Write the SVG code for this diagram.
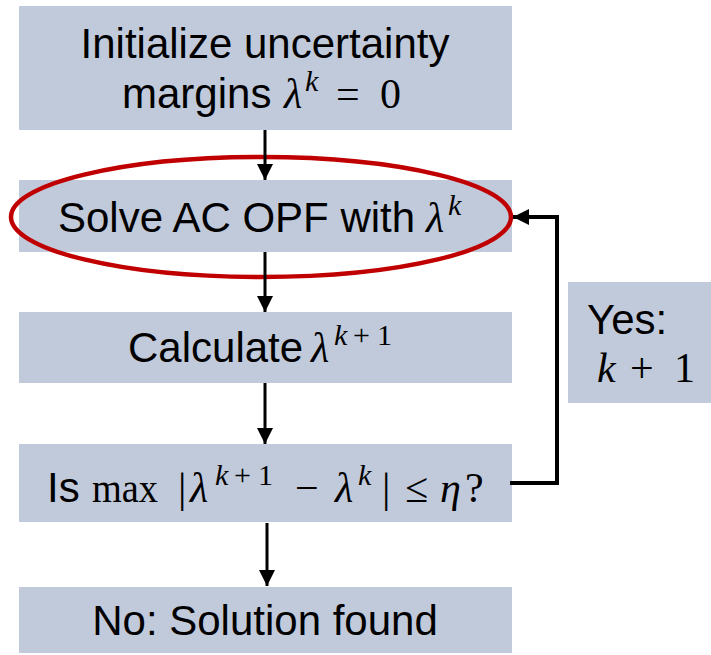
<svg xmlns="http://www.w3.org/2000/svg" width="711" height="655" viewBox="0 0 711 655">
<defs>
<style>
.box{fill:#C1CADB;}
.t{font-family:"Liberation Sans",Arial,sans-serif;font-size:42px;fill:#000;}
.m{font-family:"Liberation Serif","DejaVu Serif",serif;font-size:42px;fill:#000;}
.mi{font-family:"Liberation Serif","DejaVu Serif",serif;font-size:42px;font-style:italic;fill:#000;}
.si{font-family:"Liberation Serif","DejaVu Serif",serif;font-size:30px;font-style:italic;fill:#000;}
.s{font-family:"Liberation Serif","DejaVu Serif",serif;font-size:30px;fill:#000;}
.c{fill:none;stroke:#000;stroke-width:3;}
.fb{fill:none;stroke:#000;stroke-width:4;}
</style>
<marker id="ah" viewBox="0 0 16 16" markerUnits="userSpaceOnUse" markerWidth="16" markerHeight="16" refX="16" refY="8" orient="auto">
<path d="M0,0 L16,8 L0,16 z" fill="#000"/>
</marker>
</defs>
<rect width="711" height="655" fill="#fff"/>
<g id="init">
<rect class="box" x="19" y="6" width="493" height="124"/>
<text class="t" x="265" y="58" text-anchor="middle">Initialize uncertainty</text>
<text class="t" x="122" y="108">margins</text>
<text class="mi" x="284" y="108">λ</text>
<text class="si" x="305" y="91">k</text>
<text class="m" x="336" y="108">=</text>
<text class="m" x="380" y="108">0</text>
</g>
<g id="solve">
<rect class="box" x="19" y="180" width="493" height="72"/>
<text class="t" x="58" y="232">Solve AC OPF with</text>
<text class="mi" x="426" y="232">λ</text>
<text class="si" x="448" y="215">k</text>
</g>
<g id="highlight">
<ellipse cx="261" cy="217" rx="250" ry="60" fill="none" stroke="#C00000" stroke-width="4.5"/>
</g>
<g id="calc">
<rect class="box" x="19" y="312" width="493" height="71"/>
<text class="t" x="128" y="362">Calculate</text>
<text class="mi" x="311" y="362">λ</text>
<text class="si" x="334" y="345">k</text>
<text class="s" x="353" y="345">+</text>
<text class="s" x="377" y="345">1</text>
</g>
<g id="check">
<rect class="box" x="19" y="444" width="493" height="78"/>
<text class="t" x="47" y="502">Is</text>
<text class="m" x="92" y="502" textLength="66" lengthAdjust="spacingAndGlyphs">max</text>
<text class="m" x="178" y="502" font-size="54">|</text>
<text class="mi" x="190" y="502">λ</text>
<text class="si" x="215" y="485">k</text>
<text class="s" x="234" y="485">+</text>
<text class="s" x="258" y="485">1</text>
<text class="m" x="295" y="502">−</text>
<text class="mi" x="335" y="502">λ</text>
<text class="si" x="358" y="485">k</text>
<text class="m" x="382" y="502" font-size="54">|</text>
<text class="m" x="405" y="502">≤</text>
<text class="mi" x="440" y="502">η</text>
<text class="m" x="465" y="502">?</text>
</g>
<g id="done">
<rect class="box" x="19" y="587" width="493" height="66"/>
<text class="t" x="265" y="635" text-anchor="middle">No: Solution found</text>
</g>
<g id="yes">
<rect class="box" x="568" y="282" width="143" height="121"/>
<text class="t" x="587" y="334">Yes:</text>
<text class="mi" x="597" y="382">k</text>
<text class="m" x="630" y="382">+</text>
<text class="m" x="674" y="382">1</text>
</g>
<g id="connectors">
<path class="c" d="M265,130 V180" marker-end="url(#ah)"/>
<path class="c" d="M265,252 V312" marker-end="url(#ah)"/>
<path class="c" d="M265,383 V444" marker-end="url(#ah)"/>
<path class="c" d="M267,523 V586" marker-end="url(#ah)"/>
<path class="fb" d="M510,483 H557 V217 H513" marker-end="url(#ah)"/>
</g>
</svg>
